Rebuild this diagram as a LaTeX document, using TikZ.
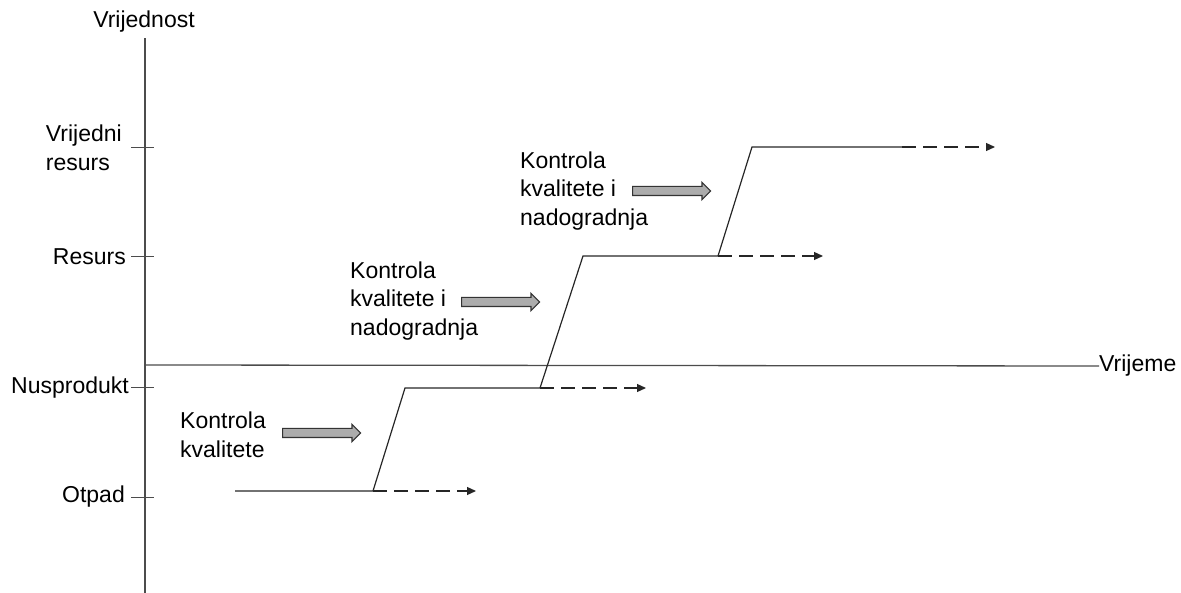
\documentclass[tikz,border=0pt]{standalone}
\usepackage{fontspec}
\setmainfont{Liberation Sans}
\usetikzlibrary{shapes.arrows}
\usetikzlibrary{arrows.meta}
\usetikzlibrary{positioning}

\tikzset{
  axisline/.style={draw=black!70, line width=1.3pt},
  stepline/.style={draw=black!85, line width=1.2pt},
  goon/.style={stepline, dash pattern=on 14pt off 7pt, -{Triangle[length=9pt,width=8pt]}},
  lbl/.style={inner sep=0pt, align=left, font=\fontsize{23}{28.5}\selectfont},
  fatarrow/.style={single arrow, draw=black!80, fill=gray!65, line width=1.2pt,
    minimum height=78pt, minimum width=16pt, single arrow head extend=4pt,
    single arrow head indent=0pt, inner xsep=0pt, inner ysep=4pt}
}

\begin{document}
\begin{tikzpicture}[x=1pt,y=-1pt]
  \useasboundingbox (0,0) rectangle (1181,593);

  % Axes
  \coordinate (ytop) at (145,38);
  \coordinate (ybot) at (145,593);
  \coordinate (xleft) at (145,365);
  \node[lbl, anchor=west] (time) at (1099,366) {Vrijeme};
  \node[lbl] (value) at (144,22) {Vrijednost};
  \draw[axisline] (ybot) -- (ytop);
  \draw[axisline] (xleft) -- (time.west);

  % Ticks and levels on the value axis
  \node[lbl, anchor=east] (vres) at (122,148) {Vrijedni\\resurs};
  \node[lbl, anchor=east] (res) at (126,257) {Resurs};
  \node[lbl, anchor=east] (nus) at (129,388) {Nusprodukt};
  \node[lbl, anchor=east] (otp) at (125,497) {Otpad};
  \foreach \yy in {148,257,388,497}
    \draw[axisline, line width=1pt] (131,\yy) -- (154,\yy);

  % Steps
  \coordinate (o0) at (235,491);
  \coordinate (o1) at (373,491);
  \coordinate (oe) at (476,491);
  \coordinate (n0) at (405,388);
  \coordinate (n1) at (540,388);
  \coordinate (ne) at (646,388);
  \coordinate (r0) at (583,256);
  \coordinate (r1) at (718,256);
  \coordinate (re) at (823,256);
  \coordinate (v0) at (752,147);
  \coordinate (v1) at (902,147);
  \coordinate (ve) at (995,147);

  \draw[stepline] (o0) -- (o1) -- (n0) -- (n1) -- (r0) -- (r1) -- (v0) -- (v1);
  \draw[goon] (o1) -- (oe);
  \draw[goon] (n1) -- (ne);
  \draw[goon] (r1) -- (re);
  \draw[goon] (v1) -- (ve);

  % Quality control steps
  \node[lbl, anchor=west] (kk) at (180,435) {Kontrola\\kvalitete};
  \node[fatarrow, anchor=west] (kka) at (282,433) {};
  \node[lbl, anchor=west] (kn1) at (350,301) {Kontrola\\kvalitete i\\nadogradnja};
  \node[fatarrow, anchor=west] (kn1a) at (461,302) {};
  \node[lbl, anchor=west] (kn2) at (520,191) {Kontrola\\kvalitete i\\nadogradnja};
  \node[fatarrow, anchor=west] (kn2a) at (632,191) {};
\end{tikzpicture}
\end{document}
